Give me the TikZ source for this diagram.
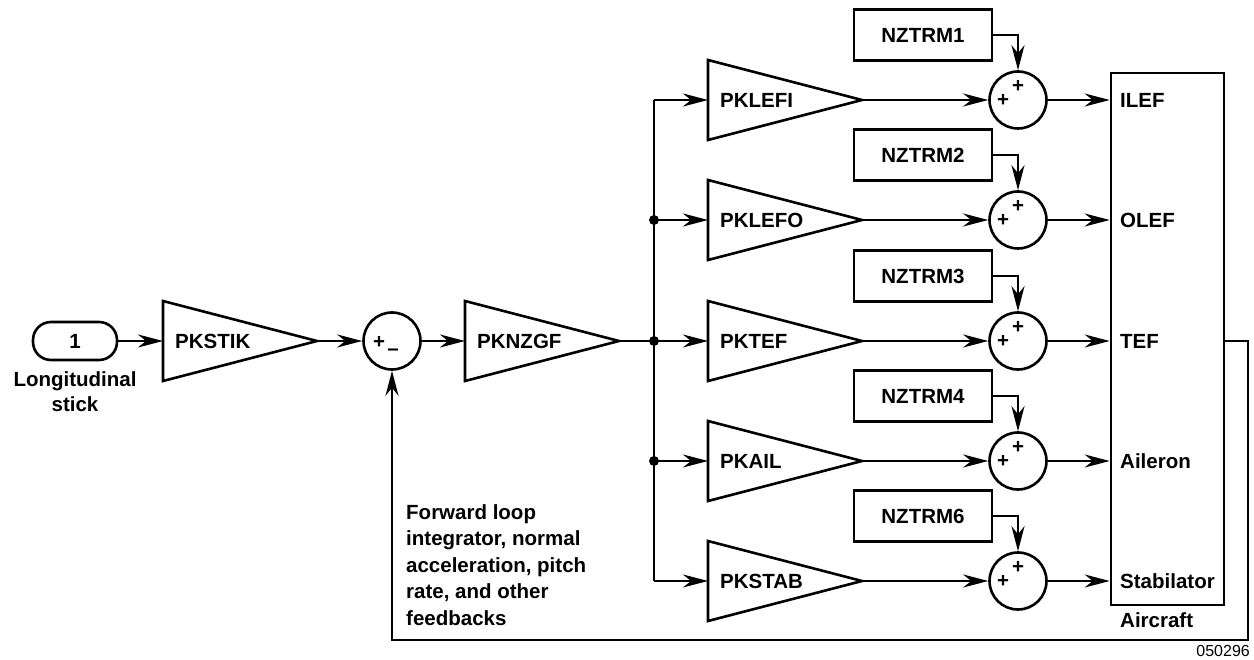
\documentclass[tikz,border=0pt]{standalone}
\usepackage{fontspec}
\setmainfont{Liberation Sans}
\usetikzlibrary{arrows.meta}
\newcommand\lblfont{\fontsize{20.5}{25}\selectfont\bfseries}
\tikzset{
  conn/.style={line width=2pt, -{Stealth[length=25pt,width=13pt,inset=8pt]}},
  wire/.style={line width=2pt},
  lbl/.style={font=\lblfont, inner sep=0pt},
  sgn/.style={font=\lblfont, inner sep=0pt},
  sumc/.style={draw, circle, line width=2.6pt, minimum size=57pt, inner sep=0pt},
  trm/.style={draw, line width=2.6pt, minimum width=138pt, minimum height=51pt, inner sep=0pt, font=\lblfont},
  dot/.style={fill, circle, minimum size=10pt, inner sep=0pt},
}
\newcommand\gainblock[4]{%
  \draw[line width=2.6pt, line join=miter] (#2,#3-40) -- (#2+154,#3) -- (#2,#3+40) -- cycle;
  \coordinate (#1-in) at (#2,#3);
  \coordinate (#1-out) at (#2+154,#3);
  \node[lbl, anchor=west] (#1) at (#2+12,#3) {#4};
}
\begin{document}
\begin{tikzpicture}[x=1pt,y=-1pt]
\useasboundingbox (0,0) rectangle (1254,660);
% input
\node[draw, line width=2.6pt, rounded corners=18pt, minimum width=84pt, minimum height=38pt, lbl] (term) at (75,341) {1};
\node[lbl, align=center, font=\fontsize{20.5}{25}\selectfont\bfseries] (termlbl) at (75,392) {Longitudinal\\stick};
\gainblock{stik}{163}{341}{PKSTIK}
\node[sumc] (sum0) at (392,341) {};
\node[sgn] (sum0p) at (379,342) {+};
\node[sgn] (sum0m) at (393,352) {–};
\gainblock{nzgf}{465}{341}{PKNZGF}
\coordinate (jn) at (654,341);
\draw[conn] (term) -- (stik-in);
\draw[conn] (stik-out) -- (sum0);
\draw[conn] (sum0) -- (nzgf-in);
\draw[wire] (nzgf-out) -- (jn);
% aircraft
\node[draw, line width=2.6pt, minimum width=113pt, minimum height=532pt, inner sep=0pt] (ac) at (1167.5,339) {};
\node[lbl, anchor=west] (aclbl) at (1120,620) {Aircraft};
% bus
\coordinate (b1) at (654,100);
\coordinate (b5) at (654,581);
\draw[wire] (b1) -- (b5);
\foreach \n/\y/\g/\t/\o in {1/100/PKLEFI/NZTRM1/ILEF, 2/220/PKLEFO/NZTRM2/OLEF, 3/341/PKTEF/NZTRM3/TEF, 4/461/PKAIL/NZTRM4/Aileron, 5/581/PKSTAB/NZTRM6/Stabilator}{
  \coordinate (b\n) at (654,\y);
  \gainblock{g\n}{708}{\y}{\g}
  \node[sumc] (s\n) at (1018,\y) {};
  \node[sgn] at (1003,\y) {+};
  \node[sgn] at (1018,\y-14) {+};
  \node[trm] (t\n) at (923,\y-65) {\t};
  \draw[conn] (b\n) -- (g\n-in);
  \draw[conn] (g\n-out) -- (s\n);
  \draw[conn] (t\n) -| (s\n);
  \draw[conn] (s\n) -- (s\n -| ac.west);
  \node[lbl, anchor=west] (o\n) at (1120,\y) {\o};
}
\node[dot] (d2) at (b2) {};
\node[dot] (d3) at (b3) {};
\node[dot] (d4) at (b4) {};
% feedback
\coordinate (fb) at (1248,640);
\draw[conn] (ac.east |- s3) -| (fb) -| (sum0.south);
\node[lbl, align=left, anchor=west, font=\fontsize{20.5}{26.5}\selectfont\bfseries] (fbtxt) at (406,565) {Forward loop\\integrator, normal\\acceleration, pitch\\rate, and other\\feedbacks};
\node[inner sep=0pt, anchor=east, font=\fontsize{16}{18}\selectfont] (num) at (1250,651) {050296};
\end{tikzpicture}
\end{document}
